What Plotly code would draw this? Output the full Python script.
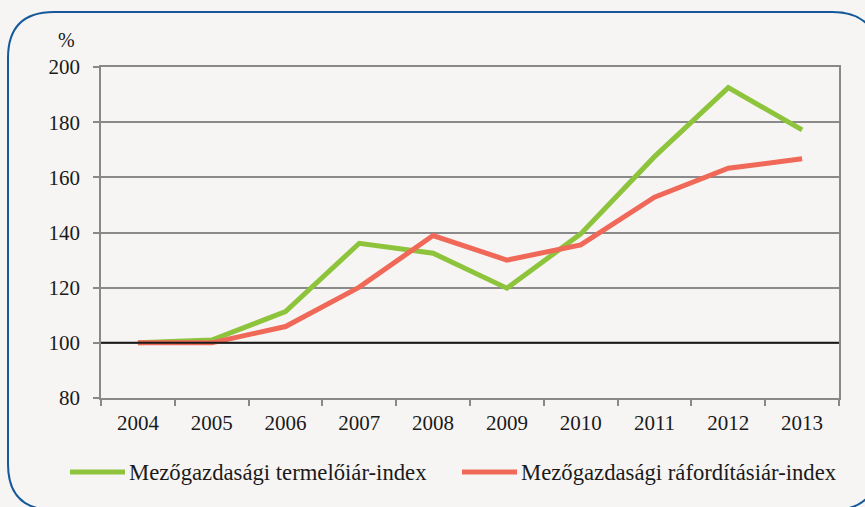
import plotly.graph_objects as go

years = ["2004", "2005", "2006", "2007", "2008", "2009", "2010", "2011", "2012", "2013"]
producer_index = [100, 101, 111.3, 136.1, 132.5, 119.8, 139.5, 167.5, 192.5, 177.2]
input_index = [100, 100, 105.9, 120.2, 138.9, 130.0, 135.5, 152.8, 163.3, 166.7]
series_names = ["Mezőgazdasági termelőiár-index", "Mezőgazdasági ráfordításiár-index"]
series_colors = ["#8dc43c", "#ef6858"]
y_ticks = [80, 100, 120, 140, 160, 180, 200]
baseline = 100

W, H = 865, 507
ML, MR, MT, MB = 101, 26, 67, 109
PW, PH = W - ML - MR, H - MT - MB
FONT = "Liberation Serif"
BG = "#f6f5f3"
TXT = "#1a1a1a"

def px(x):
    return (x - ML) / PW

def py(y):
    return (H - MB - y) / PH

fig = go.Figure()
for vals, name, col in zip([producer_index, input_index], series_names, series_colors):
    fig.add_trace(go.Scatter(x=years, y=vals, mode="lines", name=name,
                             line=dict(color=col, width=5), showlegend=False,
                             hoverinfo="skip"))

fig.add_hline(y=baseline, line=dict(color=TXT, width=2))

# rounded frame
l, t, r, b, rad = 8, 12, 878, 510, 46
path = (f"M {px(l)},{py(t+rad)} Q {px(l)},{py(t)} {px(l+rad)},{py(t)} "
        f"L {px(r-rad)},{py(t)} Q {px(r)},{py(t)} {px(r)},{py(t+rad)} "
        f"L {px(r)},{py(b-rad)} Q {px(r)},{py(b)} {px(r-rad)},{py(b)} "
        f"L {px(l+rad)},{py(b)} Q {px(l)},{py(b)} {px(l)},{py(b-rad)} Z")
fig.add_shape(type="path", xref="paper", yref="paper", path=path,
              line=dict(color="#15599b", width=2), layer="below")

# legend (manual, to match the reference's long line keys)
leg_y = 472
for (x0, x1, xt), name, col in zip([(70, 125, 127), (462, 517, 519)], series_names, series_colors):
    fig.add_shape(type="line", xref="paper", yref="paper", x0=px(x0), x1=px(x1),
                  y0=py(leg_y), y1=py(leg_y), line=dict(color=col, width=5))
    fig.add_annotation(text=name, xref="paper", yref="paper", x=px(xt), y=py(leg_y),
                       xanchor="left", yanchor="middle", showarrow=False,
                       font=dict(family=FONT, size=22.7, color=TXT))

fig.add_annotation(text="%", xref="paper", yref="paper", x=px(66), y=py(40),
                   xanchor="center", yanchor="middle", showarrow=False,
                   font=dict(family=FONT, size=20, color=TXT))

fig.update_layout(
    width=W, height=H,
    margin=dict(l=ML, r=MR, t=MT, b=MB),
    paper_bgcolor=BG, plot_bgcolor=BG,
    font=dict(family=FONT, size=21, color=TXT),
    showlegend=False,
    hovermode=False,
    xaxis=dict(type="category", range=[-0.5, 9.5], showgrid=False, tickson="boundaries",
               ticks="outside", ticklen=6, tickcolor="#888", tickwidth=1.5,
               showline=True, linecolor="#888", linewidth=1.5, mirror=True,
               ticklabelstandoff=5),
    yaxis=dict(range=[80, 200], tickvals=y_ticks, showgrid=True, gridcolor="#8a8a8a",
               gridwidth=1.5, ticks="outside", ticklen=6, tickcolor="#888", tickwidth=1.5,
               showline=True, linecolor="#888", linewidth=1.5, mirror=True,
               zeroline=False, ticklabelstandoff=9),
)

fig.write_html("out.html", post_script="document.body.style.margin='0';",
               config={"displayModeBar": False})
